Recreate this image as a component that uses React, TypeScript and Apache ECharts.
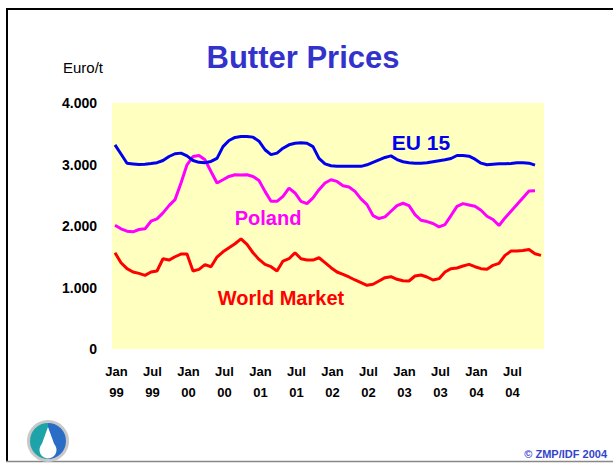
import React, { useEffect, useRef } from "react";
import * as echarts from "echarts";

const monthNames = ["Jan", "Feb", "Mar", "Apr", "May", "Jun", "Jul", "Aug", "Sep", "Oct", "Nov", "Dec"];
const years = ["99", "00", "01", "02", "03", "04"];
const categories: string[] = [];
years.forEach((y) => monthNames.forEach((m) => categories.push(m + " " + y)));

const yTicks = [0, 1000, 2000, 3000, 4000];

const eu15 = [
  3320, 3170, 3020, 3010, 3000, 3005, 3015, 3030, 3065, 3130, 3175, 3185,
  3140, 3065, 3035, 3030, 3050, 3100, 3290, 3390, 3440, 3455, 3455, 3445,
  3380, 3240, 3160, 3185, 3265, 3320, 3345, 3355, 3345, 3290, 3100, 3010,
  2980, 2970, 2970, 2970, 2970, 2970, 2995, 3035, 3075, 3115, 3140, 3080,
  3045, 3027, 3022, 3022, 3027, 3044, 3060, 3076, 3098, 3146, 3146, 3135,
  3087, 3022, 2995, 3005, 3011, 3011, 3016, 3027, 3027, 3022, 2990,
];

const poland = [
  2013, 1954, 1916, 1905, 1943, 1954, 2078, 2116, 2213, 2331, 2429, 2699,
  2995, 3130, 3146, 3076, 2887, 2699, 2752, 2806, 2833, 2828, 2833, 2806,
  2740, 2563, 2401, 2401, 2482, 2617, 2537, 2401, 2364, 2456, 2590, 2699,
  2752, 2725, 2655, 2634, 2563, 2440, 2348, 2170, 2121, 2148, 2240, 2331,
  2370, 2331, 2186, 2094, 2072, 2040, 1986, 2024, 2170, 2320, 2364, 2342,
  2320, 2256, 2159, 2105, 2008, 2132, 2240, 2348, 2461, 2569, 2574,
];

const worldMarket = [
  1565, 1403, 1306, 1252, 1230, 1198, 1252, 1268, 1468, 1446, 1500, 1543,
  1543, 1268, 1295, 1371, 1338, 1495, 1581, 1646, 1711, 1792, 1700, 1565,
  1457, 1376, 1338, 1268, 1430, 1468, 1565, 1468, 1446, 1446, 1484, 1403,
  1322, 1252, 1214, 1171, 1122, 1079, 1036, 1052, 1106, 1160, 1176, 1133,
  1110, 1106, 1187, 1203, 1171, 1122, 1144, 1252, 1306, 1317, 1349, 1376,
  1338, 1306, 1295, 1360, 1392, 1522, 1592, 1592, 1603, 1619, 1549, 1522,
];

const FONT = "'Liberation Sans', Arial, sans-serif";

export default function App() {
  const ref = useRef<HTMLDivElement>(null);
  useEffect(() => {
    if (!ref.current) return;
    const chart = echarts.init(ref.current, null, { renderer: "svg" });
    chart.setOption({
      animation: false,
      backgroundColor: "#ffffff",
      grid: {
        left: 112,
        right: 69,
        top: 103,
        bottom: 115,
        show: true,
        backgroundColor: "#FFFFC0",
        borderWidth: 0,
      },
      xAxis: {
        type: "category",
        data: categories,
        boundaryGap: true,
        axisLine: { show: false },
        axisTick: { show: false },
        splitLine: { show: false },
        axisLabel: {
          interval: 5,
          margin: 12,
          padding: [0, 0, 0, 3],
          color: "#000",
          fontFamily: FONT,
          fontWeight: "bold",
          fontSize: 13,
          lineHeight: 21,
          formatter: (v: string) => v.replace(" ", "\n"),
        },
      },
      yAxis: {
        type: "value",
        min: yTicks[0],
        max: yTicks[yTicks.length - 1],
        interval: 1000,
        axisLine: { show: false },
        axisTick: { show: false },
        splitLine: { show: false },
        axisLabel: {
          margin: 15,
          color: "#000",
          fontFamily: FONT,
          fontWeight: "bold",
          fontSize: 14,
          formatter: (v: number) => (v === 0 ? "0" : (v / 1000).toFixed(3)),
        },
      },
      series: [
        {
          name: "World Market",
          type: "line",
          data: worldMarket,
          symbol: "none",
          lineStyle: { color: "#FF0000", width: 3 },
        },
        {
          name: "Poland",
          type: "line",
          data: poland,
          symbol: "none",
          lineStyle: { color: "#FF00FF", width: 3 },
        },
        {
          name: "EU 15",
          type: "line",
          data: eu15,
          symbol: "none",
          lineStyle: { color: "#0000EE", width: 3 },
        },
      ],
      graphic: [
        { type: "line", shape: { x1: 6, y1: 9, x2: 613, y2: 9 }, style: { stroke: "#000", lineWidth: 2 } },
        { type: "line", shape: { x1: 7, y1: 8, x2: 7, y2: 462 }, style: { stroke: "#000", lineWidth: 2 } },
        { type: "line", shape: { x1: 6, y1: 461.5, x2: 613, y2: 461.5 }, style: { stroke: "#888", lineWidth: 1.5 } },
        {
          type: "text",
          x: 303,
          y: 57,
          style: {
            text: "Butter Prices",
            fill: "#3333CC",
            font: `bold 31px ${FONT}`,
            textAlign: "center",
            textVerticalAlign: "middle",
          },
        },
        {
          type: "text",
          x: 63,
          y: 67,
          style: {
            text: "Euro/t",
            fill: "#000",
            font: `15px ${FONT}`,
            textAlign: "left",
            textVerticalAlign: "middle",
          },
        },
        {
          type: "text",
          x: 421,
          y: 142,
          style: {
            text: "EU 15",
            fill: "#0000EE",
            font: `bold 21px ${FONT}`,
            textAlign: "center",
            textVerticalAlign: "middle",
          },
        },
        {
          type: "text",
          x: 268,
          y: 218,
          style: {
            text: "Poland",
            fill: "#FF00FF",
            font: `bold 20px ${FONT}`,
            textAlign: "center",
            textVerticalAlign: "middle",
          },
        },
        {
          type: "text",
          x: 281,
          y: 298,
          style: {
            text: "World Market",
            fill: "#FF0000",
            font: `bold 20px ${FONT}`,
            textAlign: "center",
            textVerticalAlign: "middle",
          },
        },
        {
          type: "text",
          x: 607,
          y: 454,
          style: {
            text: "© ZMP/IDF 2004",
            fill: "#3344CC",
            font: `bold 11px ${FONT}`,
            textAlign: "right",
            textVerticalAlign: "middle",
          },
        },
        {
          type: "group",
          children: [
            { type: "circle", shape: { cx: 48, cy: 441, r: 21 }, style: { fill: "#c8c8c8" } },
            { type: "sector", shape: { cx: 48, cy: 441, r: 18, startAngle: Math.PI / 2, endAngle: (3 * Math.PI) / 2 }, style: { fill: "#1ea3a8" } },
            { type: "sector", shape: { cx: 48, cy: 441, r: 18, startAngle: -Math.PI / 2, endAngle: Math.PI / 2 }, style: { fill: "#2a6dc6" } },
            { type: "polygon", shape: { points: [[48, 427], [40, 449], [56, 449]] }, style: { fill: "#ffffff" } },
            { type: "circle", shape: { cx: 48, cy: 450, r: 8.5 }, style: { fill: "#ffffff" } },
          ],
        },
      ],
    });
    return () => chart.dispose();
  }, []);
  return (
    <div
      ref={ref}
      style={{ position: "fixed", left: 0, top: 0, width: 613, height: 464 }}
    />
  );
}
